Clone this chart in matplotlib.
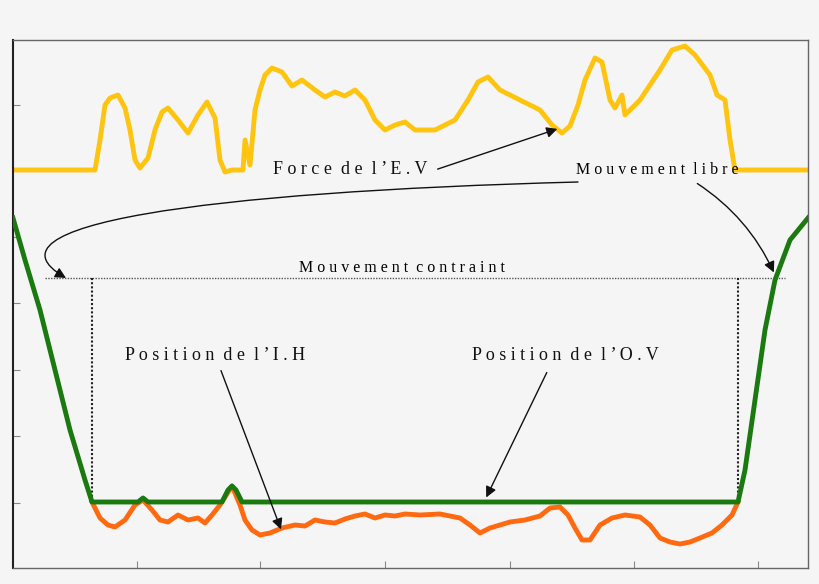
import matplotlib
matplotlib.use("Agg")
import matplotlib.pyplot as plt
from matplotlib.path import Path
from matplotlib.patches import FancyArrowPatch

green_x = [13, 25, 40, 55, 70, 85, 92, 130, 138, 143, 148, 155, 222, 228, 232, 236, 242, 738, 745, 755, 765, 775, 790, 808]
green_y = [218, 260, 310, 370, 430, 480, 502, 502, 502, 498, 502, 502, 502, 490, 486, 490, 502, 502, 470, 400, 330, 280, 240, 218]

orange_x = [92, 100, 108, 115, 125, 135, 143, 152, 160, 168, 178, 188, 198, 205, 212, 220, 232, 240, 245, 252, 260, 270, 282, 295, 305, 315, 325, 335, 345, 355, 365, 375, 385, 395, 405, 420, 440, 460, 470, 480, 490, 500, 510, 525, 540, 550, 560, 568, 575, 582, 590, 600, 612, 625, 640, 650, 660, 670, 680, 690, 700, 712, 722, 732, 738]
orange_y = [502, 518, 525, 527, 520, 505, 500, 510, 520, 522, 515, 520, 518, 523, 515, 505, 486, 505, 520, 530, 535, 533, 528, 525, 526, 520, 522, 523, 519, 516, 514, 518, 515, 516, 514, 515, 514, 518, 525, 533, 528, 525, 522, 520, 516, 508, 507, 515, 528, 540, 540, 525, 518, 515, 517, 525, 538, 542, 544, 542, 538, 533, 525, 515, 502]

yellow_x = [13, 95, 100, 105, 110, 118, 125, 130, 135, 140, 148, 155, 162, 168, 178, 188, 198, 207, 215, 220, 225, 232, 243, 245, 250, 255, 260, 265, 272, 282, 292, 302, 315, 325, 335, 345, 355, 365, 375, 385, 395, 405, 415, 435, 455, 468, 478, 488, 500, 520, 540, 552, 562, 570, 578, 585, 595, 602, 610, 615, 622, 625, 640, 660, 672, 685, 695, 710, 717, 725, 730, 735, 808]
yellow_y = [170, 170, 140, 105, 98, 95, 108, 130, 160, 168, 158, 130, 112, 108, 120, 133, 115, 102, 118, 160, 172, 170, 170, 140, 165, 110, 90, 75, 68, 72, 86, 80, 90, 97, 92, 96, 90, 100, 120, 130, 125, 122, 130, 130, 120, 100, 82, 77, 90, 100, 110, 125, 133, 126, 105, 80, 58, 62, 100, 108, 95, 115, 100, 70, 50, 46, 55, 75, 95, 100, 140, 170, 170]

y_ticks = [105, 170, 237, 303, 370, 436, 503]
x_ticks = [137, 260, 385, 510, 634, 758]

fig = plt.figure(figsize=(8.2, 5.84), dpi=100)
fig.patch.set_facecolor("#f5f5f5")
ax = fig.add_axes([13/820, 16/584, 795/820, 528/584])
ax.set_facecolor("#f5f5f5")
ax.set_xlim(13, 808)
ax.set_ylim(568, 40)
for s in ax.spines.values():
    s.set_color("#666666")
    s.set_linewidth(1)
ax.spines["left"].set_color("#222222")
ax.spines["left"].set_linewidth(1.5)
ax.set_xticks(x_ticks)
ax.set_yticks(y_ticks)
ax.set_xticklabels([])
ax.set_yticklabels([])
ax.tick_params(direction="in", length=5, color="#888888")

ax.plot(yellow_x, yellow_y, color="#ffc410", lw=3.5, solid_joinstyle="round")
ax.plot(orange_x, orange_y, color="#ff6a10", lw=3.5, solid_joinstyle="round")
ax.plot(green_x, green_y, color="#1a7a10", lw=3.5, solid_joinstyle="round", zorder=3)

ax.plot([45, 785], [278, 278], color="#555555", lw=1, ls=(0, (1, 1)))
ax.plot([92, 92], [278, 502], color="#222222", lw=1.5, ls=(0, (1, 1)))
ax.plot([738, 738], [278, 502], color="#222222", lw=1.5, ls=(0, (1, 1)))

tf = dict(family="Liberation Serif", fontsize=13, color="#111111")
ap = dict(arrowstyle="-|>", color="#111111", lw=1, mutation_scale=16)
ax.text(350, 170, "F o r c e  d e  l ’ E . V", ha="center", va="center", **tf)
ax.annotate("", xy=(560, 128), xytext=(435, 170), arrowprops=ap)
ax.text(657, 170, "M o u v e m e n t  l i b r e", ha="center", va="center", fontsize=11.5, family="Liberation Serif")
p = Path([(578, 182), (200, 192), (-25, 225), (66, 278)],
         [Path.MOVETO, Path.CURVE4, Path.CURVE4, Path.CURVE4])
ax.add_patch(FancyArrowPatch(path=p, arrowstyle="-|>", color="#111111", lw=1, mutation_scale=16))
ax.annotate("", xy=(775, 275), xytext=(695, 182),
            arrowprops=dict(ap, connectionstyle="arc3,rad=-0.15"))
ax.text(402, 268, "M o u v e m e n t  c o n t r a i n t", ha="center", va="center", fontsize=11.5, family="Liberation Serif")
ax.text(215, 355, "P o s i t i o n  d e  l ’ I . H", ha="center", va="center", **tf)
ax.annotate("", xy=(282, 532), xytext=(220, 368), arrowprops=ap)
ax.text(565, 356, "P o s i t i o n  d e  l ’ O . V", ha="center", va="center", **tf)
ax.annotate("", xy=(485, 500), xytext=(548, 370), arrowprops=ap)

fig.savefig("out.png", dpi=100, facecolor=fig.get_facecolor())
